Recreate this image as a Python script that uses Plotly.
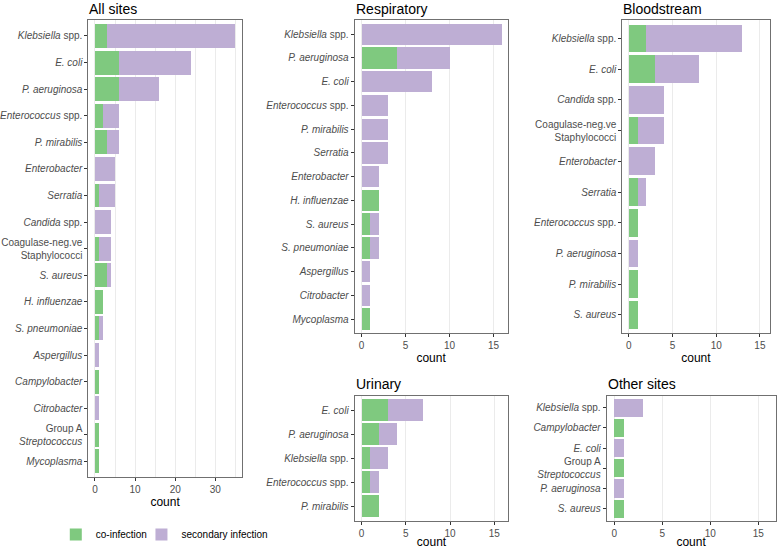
import plotly.graph_objects as go

# ---------------- data ----------------
all_cats = ["Klebsiella spp.", "E. coli", "P. aeruginosa", "Enterococcus spp.", "P. mirabilis",
            "Enterobacter", "Serratia", "Candida spp.", "Coagulase-neg.ve Staphylococci",
            "S. aureus", "H. influenzae", "S. pneumoniae", "Aspergillus", "Campylobacter",
            "Citrobacter", "Group A Streptococcus", "Mycoplasma"]
all_co = [3, 6, 6, 2, 3, 0, 1, 0, 1, 3, 2, 1, 0, 1, 0, 1, 1]
all_sec = [32, 18, 10, 4, 3, 5, 4, 4, 3, 1, 0, 1, 1, 0, 1, 0, 0]

resp_cats = ["Klebsiella spp.", "P. aeruginosa", "E. coli", "Enterococcus spp.", "P. mirabilis",
             "Serratia", "Enterobacter", "H. influenzae", "S. aureus", "S. pneumoniae",
             "Aspergillus", "Citrobacter", "Mycoplasma"]
resp_co = [0, 4, 0, 0, 0, 0, 0, 2, 1, 1, 0, 0, 1]
resp_sec = [16, 6, 8, 3, 3, 3, 2, 0, 1, 1, 1, 1, 0]

blood_cats = ["Klebsiella spp.", "E. coli", "Candida spp.", "Coagulase-neg.ve Staphylococci",
              "Enterobacter", "Serratia", "Enterococcus spp.", "P. aeruginosa", "P. mirabilis",
              "S. aureus"]
blood_co = [2, 3, 0, 1, 0, 1, 1, 0, 1, 1]
blood_sec = [11, 5, 4, 3, 3, 1, 0, 1, 0, 0]

urin_cats = ["E. coli", "P. aeruginosa", "Klebsiella spp.", "Enterococcus spp.", "P. mirabilis"]
urin_co = [3, 2, 1, 1, 2]
urin_sec = [4, 2, 2, 1, 0]

other_cats = ["Klebsiella spp.", "Campylobacter", "E. coli", "Group A Streptococcus",
              "P. aeruginosa", "S. aureus"]
other_co = [0, 1, 0, 1, 0, 1]
other_sec = [3, 0, 1, 0, 1, 0]

panel_titles = ["All sites", "Respiratory", "Bloodstream", "Urinary", "Other sites"]
series_names = ["co-infection", "secondary infection"]

labels = {
    "Klebsiella spp.": "<i>Klebsiella</i> spp.",
    "E. coli": "<i>E. coli</i>",
    "P. aeruginosa": "<i>P. aeruginosa</i>",
    "Enterococcus spp.": "<i>Enterococcus</i> spp.",
    "P. mirabilis": "<i>P. mirabilis</i>",
    "Enterobacter": "<i>Enterobacter</i>",
    "Serratia": "<i>Serratia</i>",
    "Candida spp.": "<i>Candida</i> spp.",
    "Coagulase-neg.ve Staphylococci": "Coagulase-neg.ve<br>Staphylococci",
    "S. aureus": "<i>S. aureus</i>",
    "H. influenzae": "<i>H. influenzae</i>",
    "S. pneumoniae": "<i>S. pneumoniae</i>",
    "Aspergillus": "<i>Aspergillus</i>",
    "Campylobacter": "<i>Campylobacter</i>",
    "Citrobacter": "<i>Citrobacter</i>",
    "Group A Streptococcus": "Group A<br><i>Streptococcus</i>",
    "Mycoplasma": "<i>Mycoplasma</i>",
}

# ---------------- styling ----------------
W, H = 777, 549
CO_COLOR = "#7fc97f"
SEC_COLOR = "#beaed4"
FONT = "Liberation Sans, Arial, Helvetica, sans-serif"
FRAME = "#707070"

# pixel boxes for each panel: (x0, x1, y0_top, y1_bottom), x range, dtick, minor
panels = [
    (all_cats, all_co, all_sec, (86.7, 240.7, 20, 477.3), [-1.65, 36.6], 10, 5),
    (resp_cats, resp_co, resp_sec, (354, 507.5, 20, 333.3), [-0.79, 16.6], 5, None),
    (blood_cats, blood_co, blood_sec, (622.7, 770.5, 20, 333.3), [-0.75, 16.1], 5, None),
    (urin_cats, urin_co, urin_sec, (354, 508.3, 395.7, 520.7), [-0.79, 16.6], 5, None),
    (other_cats, other_co, other_sec, (607, 776.5, 395.7, 520.7), [-0.8, 16.8], 5, None),
]

fig = go.Figure()
layout = {}
annotations = []

for i, (cats, co, sec, box, xr, dt, minor) in enumerate(panels):
    k = "" if i == 0 else str(i + 1)
    x0, x1, yt, yb = box
    for j, (name, vals, col) in enumerate([(series_names[0], co, CO_COLOR),
                                            (series_names[1], sec, SEC_COLOR)]):
        fig.add_trace(go.Bar(
            x=vals, y=cats, orientation="h", name=name,
            marker=dict(color=col, line=dict(width=0)),
            xaxis="x" + k, yaxis="y" + k,
            legendgroup=name, showlegend=(i == 0),
            legend="legend" if j == 0 else "legend2",
        ))
    xa = dict(
        domain=[x0 / W, x1 / W], anchor="y" + k, range=xr,
        dtick=dt, tick0=0, showgrid=True, gridcolor="#ebebeb", gridwidth=1,
        zeroline=False, showline=True, mirror=True, linecolor=FRAME, linewidth=1,
        ticks="outside", ticklen=3, tickcolor="#333333", tickwidth=1,
        tickfont=dict(size=10, color="#4d4d4d", family=FONT),
        title=dict(text="count", font=dict(size=12, color="#000000", family=FONT), standoff=2),
        fixedrange=True,
    )
    if minor:
        xa["minor"] = dict(dtick=minor, showgrid=True, gridcolor="#ebebeb", gridwidth=1, ticks="")
    ya = dict(
        domain=[1 - yb / H, 1 - yt / H], anchor="x" + k, type="category",
        categoryorder="array", categoryarray=cats,
        range=[len(cats) - 0.4, -0.6],
        tickmode="array", tickvals=cats, ticktext=[labels[c] for c in cats],
        showgrid=False, zeroline=False, showline=True, mirror=True,
        linecolor=FRAME, linewidth=1,
        ticks="outside", ticklen=3, tickcolor="#333333", tickwidth=1,
        tickfont=dict(size=10, color="#4d4d4d", family=FONT),
        fixedrange=True,
    )
    layout["xaxis" + k] = xa
    layout["yaxis" + k] = ya
    annotations.append(dict(
        text=panel_titles[i], xref="paper", yref="paper",
        x=(x0 - 1) / W, y=1 - (yt - 11.5) / H, xanchor="left", yanchor="middle",
        showarrow=False, font=dict(size=14, color="#000000", family=FONT),
    ))

legend_common = dict(
    orientation="h", y=1 - 534.5 / H, xanchor="left", yanchor="middle",
    font=dict(size=10, color="#000000", family=FONT),
    itemwidth=30, bgcolor="rgba(0,0,0,0)",
)

fig.update_layout(**layout)
fig.update_layout(
    width=W, height=H, autosize=False,
    margin=dict(l=0, r=0, t=0, b=0, pad=0),
    paper_bgcolor="white", plot_bgcolor="white",
    barmode="stack", bargap=0.1,
    font=dict(family=FONT),
    annotations=annotations,
    legend=dict(x=54 / W, **legend_common),
    legend2=dict(x=140 / W, **legend_common),
    showlegend=True,
)

fig.write_html("out.html", config={"displayModeBar": False},
               post_script="document.body.style.margin='0';")
